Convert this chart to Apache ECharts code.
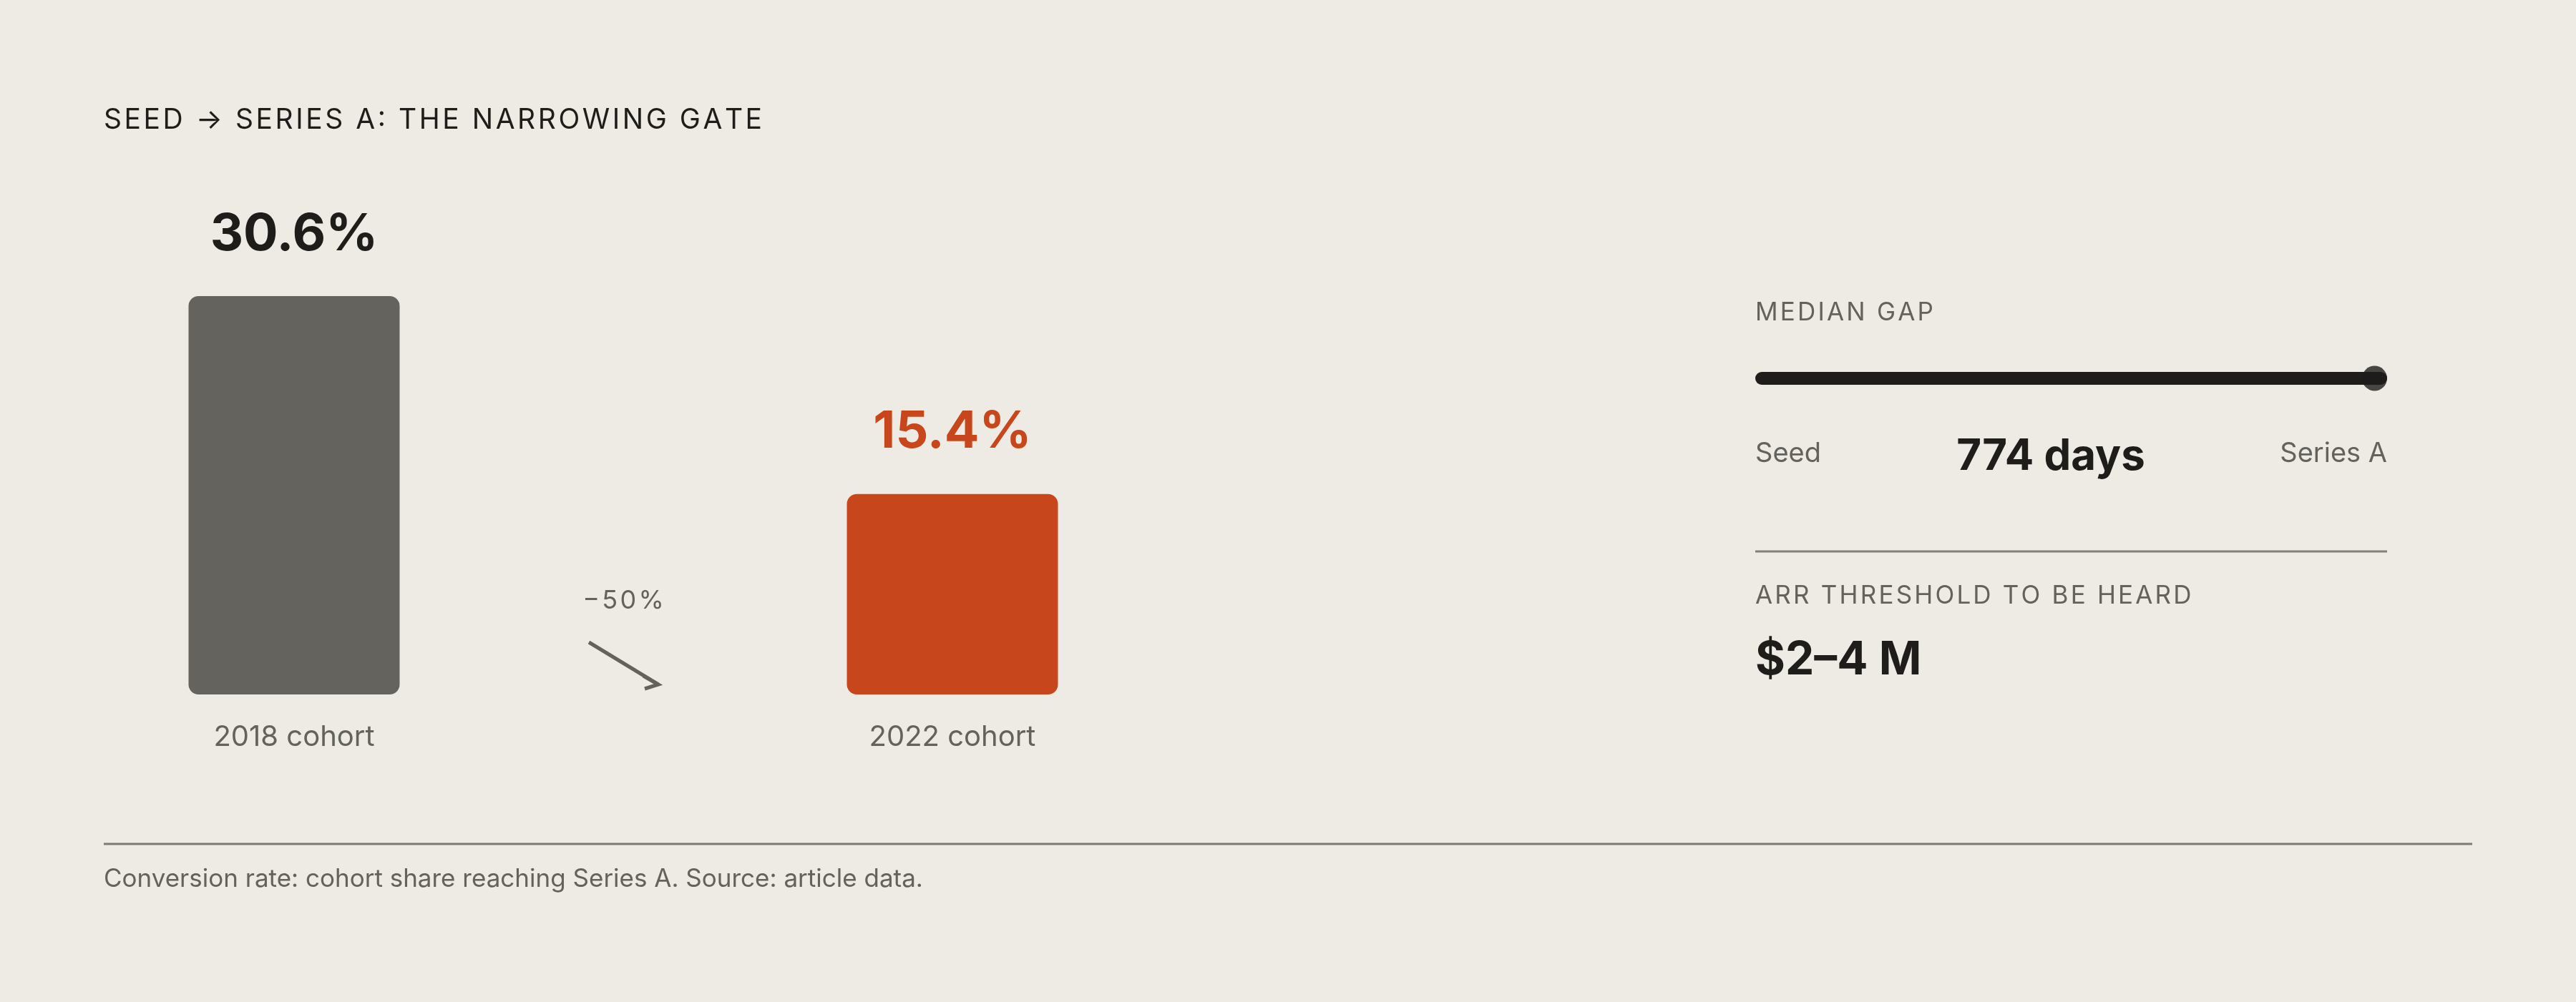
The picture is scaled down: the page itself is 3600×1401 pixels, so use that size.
<!DOCTYPE html>
<html>
<head>
<meta charset="utf-8">
<title>Seed to Series A</title>
<script src="https://cdn.jsdelivr.net/npm/echarts@6/dist/echarts.min.js"></script>
<style>
  html, body { margin: 0; padding: 0; background: #eeebe4; }
  #chart { width: 3600px; height: 1401px; }
</style>
</head>
<body>
<div id="chart"></div>
<script>
// data
var cohorts = ['2018 cohort', '2022 cohort'];
var conversionRates = [30.6, 15.4];
var changeLabel = '\u221250%';
var gapEnds = ['Seed', 'Series A'];
var medianGapDays = [774];
var arrThreshold = '$2\u20134 M';

var FONT = 'Inter, "DM Sans", "Noto Sans", sans-serif';
var DARK = '#1e1d1a';
var MUTED = '#63625d';
var BAR_GREY = '#64635e';
var ACCENT = '#c8461b';

// poor man's letter spacing
function spaced(str, gap) {
  return str.split('').join(gap || '\u200A');
}

var chart = echarts.init(document.getElementById('chart'));

var xCats = [cohorts[0], '', cohorts[1]];
var barData = [
  { value: conversionRates[0], itemStyle: { color: BAR_GREY }, label: { color: DARK } },
  '-',
  { value: conversionRates[1], itemStyle: { color: ACCENT }, label: { color: ACCENT } }
];

var option = {
  backgroundColor: '#eeebe4',
  animation: false,
  textStyle: { fontFamily: FONT },
  grid: [
    { left: 181, width: 1380, top: 414, bottom: 430 },
    { left: 2453, width: 883, top: 520, height: 18 }
  ],
  xAxis: [
    {
      gridIndex: 0,
      type: 'category',
      data: xCats,
      axisLine: { show: false },
      axisTick: { show: false },
      axisLabel: {
        margin: 40,
        fontSize: 40,
        lineHeight: 40,
        color: MUTED,
        fontFamily: FONT
      }
    },
    {
      gridIndex: 1,
      type: 'value',
      min: 0,
      max: 'dataMax',
      show: false
    }
  ],
  yAxis: [
    {
      gridIndex: 0,
      type: 'value',
      min: 0,
      max: 'dataMax',
      show: false
    },
    {
      gridIndex: 1,
      type: 'category',
      data: ['gap'],
      show: false
    }
  ],
  series: [
    {
      type: 'bar',
      xAxisIndex: 0,
      yAxisIndex: 0,
      barWidth: 295,
      data: barData,
      itemStyle: { borderRadius: 14 },
      label: {
        show: true,
        position: 'top',
        distance: 50,
        fontSize: 72,
        lineHeight: 72,
        fontWeight: 'bold',
        fontFamily: FONT,
        formatter: function (p) { return p.value + '%'; }
      }
    },
    {
      type: 'bar',
      xAxisIndex: 1,
      yAxisIndex: 1,
      barWidth: 18,
      data: medianGapDays,
      itemStyle: { color: DARK, borderRadius: 9 },
      silent: true
    },
    {
      type: 'scatter',
      xAxisIndex: 1,
      yAxisIndex: 1,
      symbol: 'circle',
      symbolSize: 35,
      symbolOffset: [-17.5, 0],
      clip: false,
      data: [[medianGapDays[0], 0]],
      itemStyle: { color: DARK },
      silent: true
    }
  ]
};

chart.setOption(option);

// annotations placed from the axes
var mid = chart.convertToPixel({ xAxisIndex: 0, yAxisIndex: 0 }, [1, 0]);
var cx = mid[0], base = mid[1];
var tip = [cx + 49, base - 14];

var RX = 2453;

chart.setOption({
  graphic: [
    {
      type: 'text',
      x: 145, y: 168,
      style: {
        text: spaced('SEED \u2192 SERIES A: THE NARROWING GATE'),
        fontFamily: FONT, fontSize: 39, fill: DARK,
        textVerticalAlign: 'middle'
      }
    },
    {
      type: 'text',
      x: cx, y: base - 131,
      style: {
        text: spaced(changeLabel), fontFamily: FONT, fontSize: 36, fill: MUTED,
        textAlign: 'center', textVerticalAlign: 'middle'
      }
    },
    {
      type: 'polyline',
      shape: { points: [[cx - 48, base - 73], tip] },
      style: { stroke: MUTED, lineWidth: 5, fill: null }
    },
    {
      type: 'polyline',
      shape: { points: [[tip[0] - 21, tip[1] - 12], tip, [tip[0] - 19, tip[1] + 6]] },
      style: { stroke: MUTED, lineWidth: 5, fill: null }
    },
    {
      type: 'text',
      x: RX, y: 437,
      style: {
        text: spaced('MEDIAN GAP'), fontFamily: FONT, fontSize: 35, fill: MUTED,
        textVerticalAlign: 'middle'
      }
    },
    {
      type: 'text',
      x: RX, y: 635,
      style: {
        text: gapEnds[0], fontFamily: FONT, fontSize: 38, fill: MUTED,
        textVerticalAlign: 'middle'
      }
    },
    {
      type: 'text',
      x: 2866, y: 639,
      style: {
        text: medianGapDays[0] + ' days', fontFamily: FONT, fontSize: 60,
        fontWeight: 'bold', fill: DARK,
        textAlign: 'center', textVerticalAlign: 'middle'
      }
    },
    {
      type: 'text',
      x: 3336, y: 635,
      style: {
        text: gapEnds[1], fontFamily: FONT, fontSize: 38, fill: MUTED,
        textAlign: 'right', textVerticalAlign: 'middle'
      }
    },
    {
      type: 'line',
      shape: { x1: RX, y1: 771, x2: 3336, y2: 771 },
      style: { stroke: '#807f7a', lineWidth: 3 }
    },
    {
      type: 'text',
      x: RX, y: 833,
      style: {
        text: spaced('ARR THRESHOLD TO BE HEARD'), fontFamily: FONT, fontSize: 35, fill: MUTED,
        textVerticalAlign: 'middle'
      }
    },
    {
      type: 'text',
      x: RX, y: 924,
      style: {
        text: arrThreshold, fontFamily: FONT, fontSize: 64, fontWeight: 'bold', fill: DARK,
        textVerticalAlign: 'middle'
      }
    },
    {
      type: 'line',
      shape: { x1: 145, y1: 1180, x2: 3455, y2: 1180 },
      style: { stroke: '#7b7a75', lineWidth: 3 }
    },
    {
      type: 'text',
      x: 145, y: 1229,
      style: {
        text: 'Conversion rate: cohort share reaching Series A. Source: article data.',
        fontFamily: FONT, fontSize: 35, fill: MUTED,
        textVerticalAlign: 'middle'
      }
    }
  ]
});
</script>
</body>
</html>
